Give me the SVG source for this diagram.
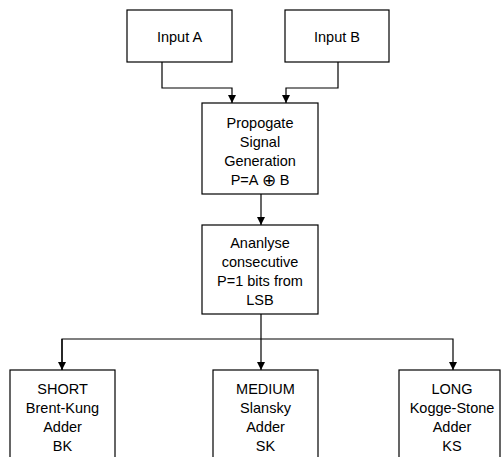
<svg xmlns="http://www.w3.org/2000/svg" width="501" height="457" viewBox="0 0 501 457">
<style>
.box{fill:#fff;stroke:#000;stroke-width:1.2}
.t{font-family:"Liberation Sans",Arial,sans-serif;font-size:14.5px;fill:#000;text-anchor:middle;dominant-baseline:central}
.c{fill:none;stroke:#000;stroke-width:1.2}
</style>
<defs>
<marker id="ah" viewBox="0 0 10 10" refX="10" refY="5" markerWidth="8" markerHeight="8" markerUnits="userSpaceOnUse" orient="auto">
<path d="M0,0 L10,5 L0,10 z" fill="#000"/>
</marker>
</defs>
<rect width="501" height="457" fill="#fff"/>
<g id="connectors">
<path class="c" d="M162,62 V88 H232 V103" marker-end="url(#ah)"/>
<path class="c" d="M338,62 V88 H286 V103" marker-end="url(#ah)"/>
<path class="c" d="M261,194 V225" marker-end="url(#ah)"/>
<path class="c" d="M261,314 V370" marker-end="url(#ah)"/>
<path class="c" d="M62,370 V339 H453 V370" marker-end="url(#ah)"/>
<path class="c" d="M62,339 V370" marker-end="url(#ah)"/>
</g>
<g id="inputA"><rect class="box" x="127" y="10" width="105" height="52"/><text class="t" x="179.5" y="37">Input A</text></g>
<g id="inputB"><rect class="box" x="285" y="10" width="104" height="52"/><text class="t" x="337" y="37">Input B</text></g>
<g id="propagate"><rect class="box" x="202" y="103" width="116" height="91"/>
<text class="t" x="260" y="123">Propogate</text><text class="t" x="260" y="142">Signal</text><text class="t" x="260" y="161">Generation</text><text class="t" x="260" y="180">P=A <tspan font-size="17px">⊕</tspan> B</text></g>
<g id="analyse"><rect class="box" x="202" y="225" width="116" height="89"/>
<text class="t" x="260" y="243">Ananlyse</text><text class="t" x="260" y="262">consecutive</text><text class="t" x="260" y="281">P=1 bits from</text><text class="t" x="260" y="300">LSB</text></g>
<g id="short"><rect class="box" x="10" y="370" width="105" height="95"/>
<text class="t" x="62.5" y="389">SHORT</text><text class="t" x="62.5" y="408">Brent-Kung</text><text class="t" x="62.5" y="427">Adder</text><text class="t" x="62.5" y="446">BK</text></g>
<g id="medium"><rect class="box" x="213" y="370" width="105" height="95"/>
<text class="t" x="265.5" y="389">MEDIUM</text><text class="t" x="265.5" y="408">Slansky</text><text class="t" x="265.5" y="427">Adder</text><text class="t" x="265.5" y="446">SK</text></g>
<g id="long"><rect class="box" x="399" y="370" width="101" height="95"/>
<text class="t" x="452" y="389">LONG</text><text class="t" x="452" y="408">Kogge-Stone</text><text class="t" x="452" y="427">Adder</text><text class="t" x="452" y="446">KS</text></g>
</svg>
